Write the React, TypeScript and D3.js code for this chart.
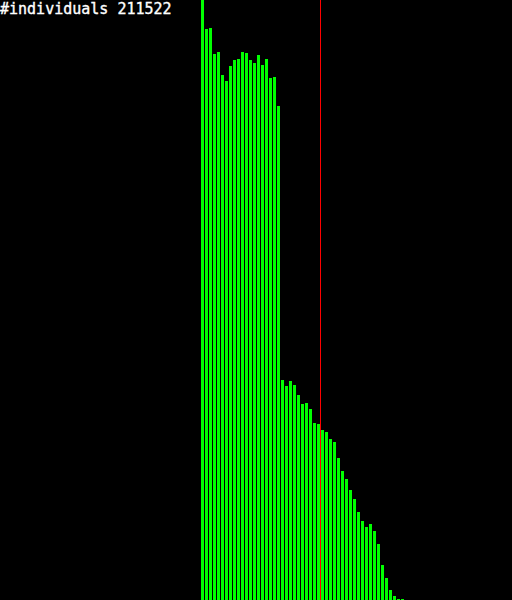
import React from "react";
import * as d3 from "d3";

const W = 512;
const H = 600;

// bar heights (in chart units, max = 600), one per bin
const binValues = [
  600, 571, 572, 546, 548, 525, 519, 534, 540, 541,
  548, 547, 540, 537, 545, 535, 541, 522, 523, 494,
  220, 214, 219, 215, 205, 196, 197, 191, 177, 176,
  170, 168, 161, 158, 142, 129, 121, 110, 101, 88,
  79, 73, 76, 69, 56, 35, 22, 10, 4, 1, 1,
];
const thresholdBin = 29.75;
const title = "#individuals 211522";

export default function App() {
  const x = d3.scaleLinear().domain([0, binValues.length]).range([201, 201 + 4 * binValues.length]);
  const y = d3.scaleLinear().domain([0, 600]).range([H, 0]);
  return (
    <div style={{ position: "absolute", left: 0, top: 0 }}>
      <svg width={W} height={H} style={{ display: "block", background: "#000" }}>
        <rect x={0} y={0} width={W} height={H} fill="#000" />
        {binValues.map((v, i) => (
          <rect
            key={i}
            x={x(i)}
            y={y(v)}
            width={x(i + 1) - x(i) - 1}
            height={H - y(v)}
            fill="#00ff00"
            shapeRendering="crispEdges"
          />
        ))}
        <line
          x1={x(thresholdBin) + 0.5}
          x2={x(thresholdBin) + 0.5}
          y1={0}
          y2={H}
          stroke="#ff0000"
          strokeWidth={1}
          shapeRendering="crispEdges"
        />
        <text x={0} y={14} fill="#fff" fontFamily="'DejaVu Sans Mono', monospace" fontWeight={500} fontSize={15} stroke="#fff" strokeWidth={0.35}>
          {title}
        </text>
      </svg>
    </div>
  );
}
